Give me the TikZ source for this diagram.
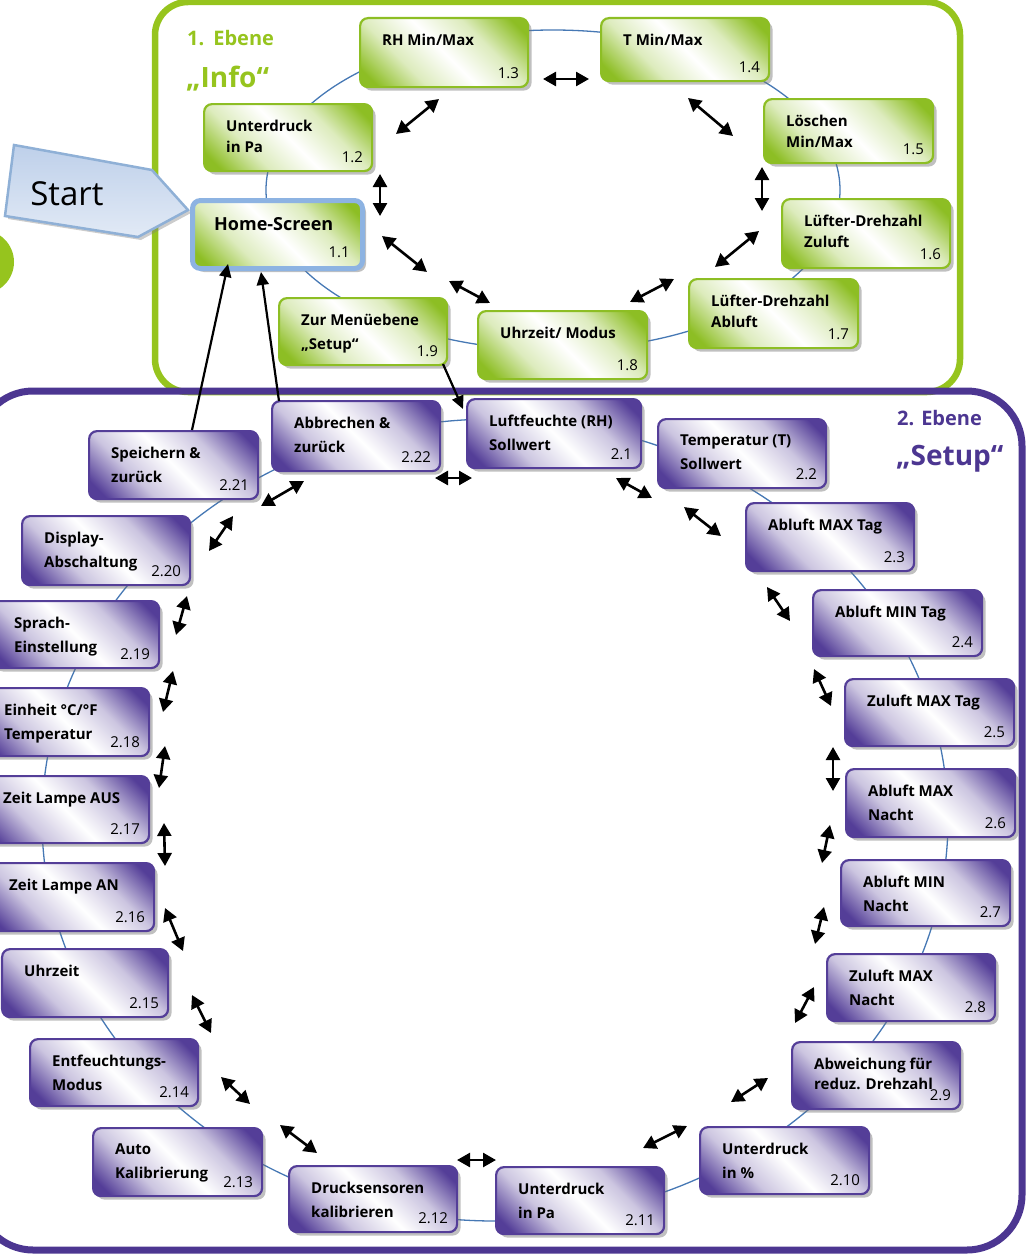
\documentclass[tikz,border=0pt]{standalone}
\usepackage{fontspec}
\setmainfont{Open Sans}
\usetikzlibrary{arrows.meta,shadows,calc}
\definecolor{lgreen}{RGB}{150,196,30}
\definecolor{bgreen}{RGB}{141,190,36}
\definecolor{lpurple}{RGB}{76,54,145}
\definecolor{bpurple}{RGB}{84,62,152}
\definecolor{linkblue}{RGB}{70,120,180}
\definecolor{homeblue}{RGB}{141,179,226}
\definecolor{startfill}{RGB}{190,208,234}
\definecolor{startline}{RGB}{143,176,214}
\colorlet{gmid}{bgreen!30!white}
\colorlet{pmid}{bpurple!30!white}
\pgfdeclareverticalshading{gshade}{100bp}{color(0bp)=(bgreen); color(20bp)=(bgreen); color(35bp)=(gmid); color(50bp)=(white); color(65bp)=(gmid); color(80bp)=(bgreen); color(100bp)=(bgreen)}
\pgfdeclareverticalshading{pshade}{100bp}{color(0bp)=(bpurple); color(20bp)=(bpurple); color(35bp)=(pmid); color(50bp)=(white); color(65bp)=(pmid); color(80bp)=(bpurple); color(100bp)=(bpurple)}
\tikzset{
 boxbase/.style={draw, rounded corners=8pt, line width=2.2pt, inner sep=0pt, anchor=north west,
   drop shadow={shadow xshift=3.5pt,shadow yshift=-3.5pt,fill=black!55,opacity=0.45}},
 gbox/.style={boxbase, draw=bgreen, shading=gshade, shading angle=-45},
 pbox/.style={boxbase, draw=bpurple, shading=pshade, shading angle=-45},
 gtxt/.style={inner sep=0pt, anchor=north west, align=left, font=\fontsize{15}{21}\selectfont\bfseries},
 ptxt/.style={inner sep=0pt, anchor=north west, align=left, font=\fontsize{15}{24}\selectfont\bfseries},
 numtxt/.style={inner sep=0pt, anchor=south east, font=\fontsize{15}{18}\selectfont},
 dblarrow/.style={line width=2.6pt, {Triangle[length=13pt,width=14pt]}-{Triangle[length=13pt,width=14pt]}},
 sglarrow/.style={line width=2.2pt, -{Triangle[length=13pt,width=12pt]}},
 linkline/.style={draw=linkblue, line width=1.3pt},
}
\newcommand\mkbox[8]{%
 \node[#1box, minimum width={(#5)-(#3)}, minimum height={(#6)-(#4)}] (#2) at (#3,#4) {};
 \node[#1txt] (#2t) at ($(#2.north west)+(23,17)$) {#7};
 \node[numtxt] (#2n) at ($(#2.south east)+(-10,-9)$) {#8};
}
\newcommand\dbl[5]{\coordinate (#1a) at (#2,#3); \coordinate (#1b) at (#4,#5); \draw[dblarrow] (#1a) -- (#1b);}
\begin{document}
\begin{tikzpicture}[x=1pt,y=-1pt]
\useasboundingbox (0,0) rectangle (1032,1255);
% frames
\draw[lgreen, line width=6.5pt, rounded corners=33pt] (155,2) rectangle (960,392);
\draw[lpurple, line width=7pt, rounded corners=55pt] (-22,391) rectangle (1022,1250);
\fill[lgreen] (-18,262) circle [radius=32];
% ring lines
\draw[linkline] (553,190) ellipse [x radius=287, y radius=160];
\draw[linkline] (495,820) ellipse [x radius=453, y radius=401];
% titles
\node[anchor=base west, inner sep=0pt, text=lgreen, font=\fontsize{20}{24}\selectfont\bfseries] (t1) at (187,46) {1.\hspace{9pt}Ebene};
\node[anchor=base west, inner sep=0pt, text=lgreen, font=\fontsize{28}{34}\selectfont\bfseries] (t1b) at (186,87) {„Info“};
\node[anchor=base west, inner sep=0pt, text=lpurple, font=\fontsize{20}{24}\selectfont\bfseries] (t2) at (897,425) {2. Ebene};
\node[anchor=base west, inner sep=0pt, text=lpurple, font=\fontsize{28}{34}\selectfont\bfseries] (t2b) at (896,465) {„Setup“};
% start
\draw[startline, line width=2.5pt, top color=startfill, bottom color=startfill!45,
  drop shadow={shadow xshift=3pt,shadow yshift=-3pt,fill=black!50,opacity=0.4}]
  (14,145) -- (152,170) -- (188,210) -- (138,237) -- (5,216) -- cycle;
\node[inner sep=0pt, font=\fontsize{33}{40}\selectfont] (start) at (67,194) {Start};
% green boxes
\mkbox{g}{n13}{359}{17}{527}{86}{RH Min/Max}{1.3}
\mkbox{g}{n14}{600}{17}{768}{80}{T Min/Max}{1.4}
\mkbox{g}{n12}{203}{103}{371}{170}{Unterdruck\\in Pa}{1.2}
\mkbox{g}{n15}{763}{98}{932}{162}{Löschen\\Min/Max}{1.5}
\mkbox{g}{n16}{781}{198}{949}{267}{Lüfter-Drehzahl\\Zuluft}{1.6}
\mkbox{g}{n17}{688}{278}{857}{347}{Lüfter-Drehzahl\\Abluft}{1.7}
\mkbox{g}{n19}{278}{297}{446}{364}{Zur Menüebene\\[3pt]„Setup“}{1.9}
\mkbox{g}{n18}{477}{310}{646}{378}{Uhrzeit/ Modus}{1.8}
\node[gbox, draw=homeblue, line width=5pt, minimum width=170, minimum height=68] (n11) at (190,198) {};
\node[inner sep=0pt, anchor=north west, font=\fontsize{18}{22}\selectfont\bfseries] (n11t) at (214,217) {Home-Screen};
\node[numtxt] (n11n) at (350,258) {1.1};
% purple boxes
\mkbox{p}{p1}{466}{398}{640}{467}{Luftfeuchte (RH)\\Sollwert}{2.1}
\mkbox{p}{p22}{271}{400}{439}{470}{Abbrechen \&\\zurück}{2.22}
\mkbox{p}{p2}{657}{418}{825}{487}{Temperatur (T)\\Sollwert}{2.2}
\mkbox{p}{p21}{88}{430}{257}{498}{Speichern \&\\zurück}{2.21}
\mkbox{p}{p3}{745}{502}{913}{570}{Abluft MAX Tag}{2.3}
\mkbox{p}{p20}{21}{515}{189}{584}{Display-\\Abschaltung}{2.20}
\mkbox{p}{p4}{812}{589}{981}{655}{Abluft MIN Tag}{2.4}
\mkbox{p}{p19}{-9}{600}{158}{667}{Sprach-\\Einstellung}{2.19}
\mkbox{p}{p5}{844}{678}{1013}{745}{Zuluft MAX Tag}{2.5}
\mkbox{p}{p18}{-19}{687}{148}{755}{Einheit °C/°F\\Temperatur}{2.18}
\mkbox{p}{p6}{845}{768}{1014}{836}{Abluft MAX\\Nacht}{2.6}
\mkbox{p}{p17}{-20}{775}{148}{842}{Zeit Lampe AUS}{2.17}
\mkbox{p}{p7}{840}{859}{1009}{925}{Abluft MIN\\Nacht}{2.7}
\mkbox{p}{p16}{-14}{862}{153}{930}{Zeit Lampe AN}{2.16}
\mkbox{p}{p8}{826}{953}{994}{1020}{Zuluft MAX\\Nacht}{2.8}
\mkbox{p}{p15}{1}{948}{167}{1016}{Uhrzeit}{2.15}
\mkbox{p}{p9}{791}{1041}{959}{1108}{Abweichung für\\[-4pt]reduz. Drehzahl}{2.9}
\mkbox{p}{p14}{29}{1038}{197}{1105}{Entfeuchtungs-\\Modus}{2.14}
\mkbox{p}{p10}{699}{1126}{868}{1193}{Unterdruck\\in \%}{2.10}
\mkbox{p}{p13}{92}{1127}{261}{1195}{Auto\\Kalibrierung}{2.13}
\mkbox{p}{p11}{495}{1166}{663}{1233}{Unterdruck\\in Pa}{2.11}
\mkbox{p}{p12}{288}{1165}{456}{1231}{Drucksensoren\\kalibrieren}{2.12}
% double arrows green
\dbl{a1}{396}{134}{439}{99}
\dbl{a2}{543}{79}{589}{79}
\dbl{a3}{688}{98}{733}{136}
\dbl{a4}{762}{167}{762}{211}
\dbl{a5}{759}{231}{715}{267}
\dbl{a6}{674}{279}{630}{302}
\dbl{a7}{449}{281}{490}{303}
\dbl{a8}{382}{236}{427}{272}
\dbl{a9}{380}{174}{380}{216}
% double arrows purple
\dbl{b1}{435}{478}{472}{478}
\dbl{b2}{616}{478}{652}{498}
\dbl{b3}{684}{507}{721}{536}
\dbl{b4}{767}{587}{790}{621}
\dbl{b5}{814}{669}{831}{706}
\dbl{b6}{833}{747}{833}{791}
\dbl{b7}{830}{825}{822}{863}
\dbl{b8}{824}{907}{815}{944}
\dbl{b9}{814}{987}{795}{1023}
\dbl{b10}{768}{1078}{731}{1102}
\dbl{b11}{687}{1126}{643}{1148}
\dbl{b12}{457}{1160}{496}{1160}
\dbl{b13}{280}{1125}{317}{1153}
\dbl{b14}{221}{1077}{250}{1104}
\dbl{b15}{192}{995}{211}{1033}
\dbl{b16}{165}{908}{183}{951}
\dbl{b17}{164}{823}{165}{866}
\dbl{b18}{165}{746}{159}{788}
\dbl{b19}{173}{671}{163}{712}
\dbl{b20}{187}{596}{176}{635}
\dbl{b21}{233}{516}{209}{551}
\dbl{b22}{304}{481}{261}{506}
% single arrows
\coordinate (s1a) at (443,364); \coordinate (s1b) at (463,409);
\coordinate (s2a) at (192,430); \coordinate (s2b) at (228,264);
\coordinate (s3a) at (279,401); \coordinate (s3b) at (261,272);
\draw[sglarrow] (s1a) -- (s1b);
\draw[sglarrow] (s2a) -- (s2b);
\draw[sglarrow] (s3a) -- (s3b);
\end{tikzpicture}
\end{document}
